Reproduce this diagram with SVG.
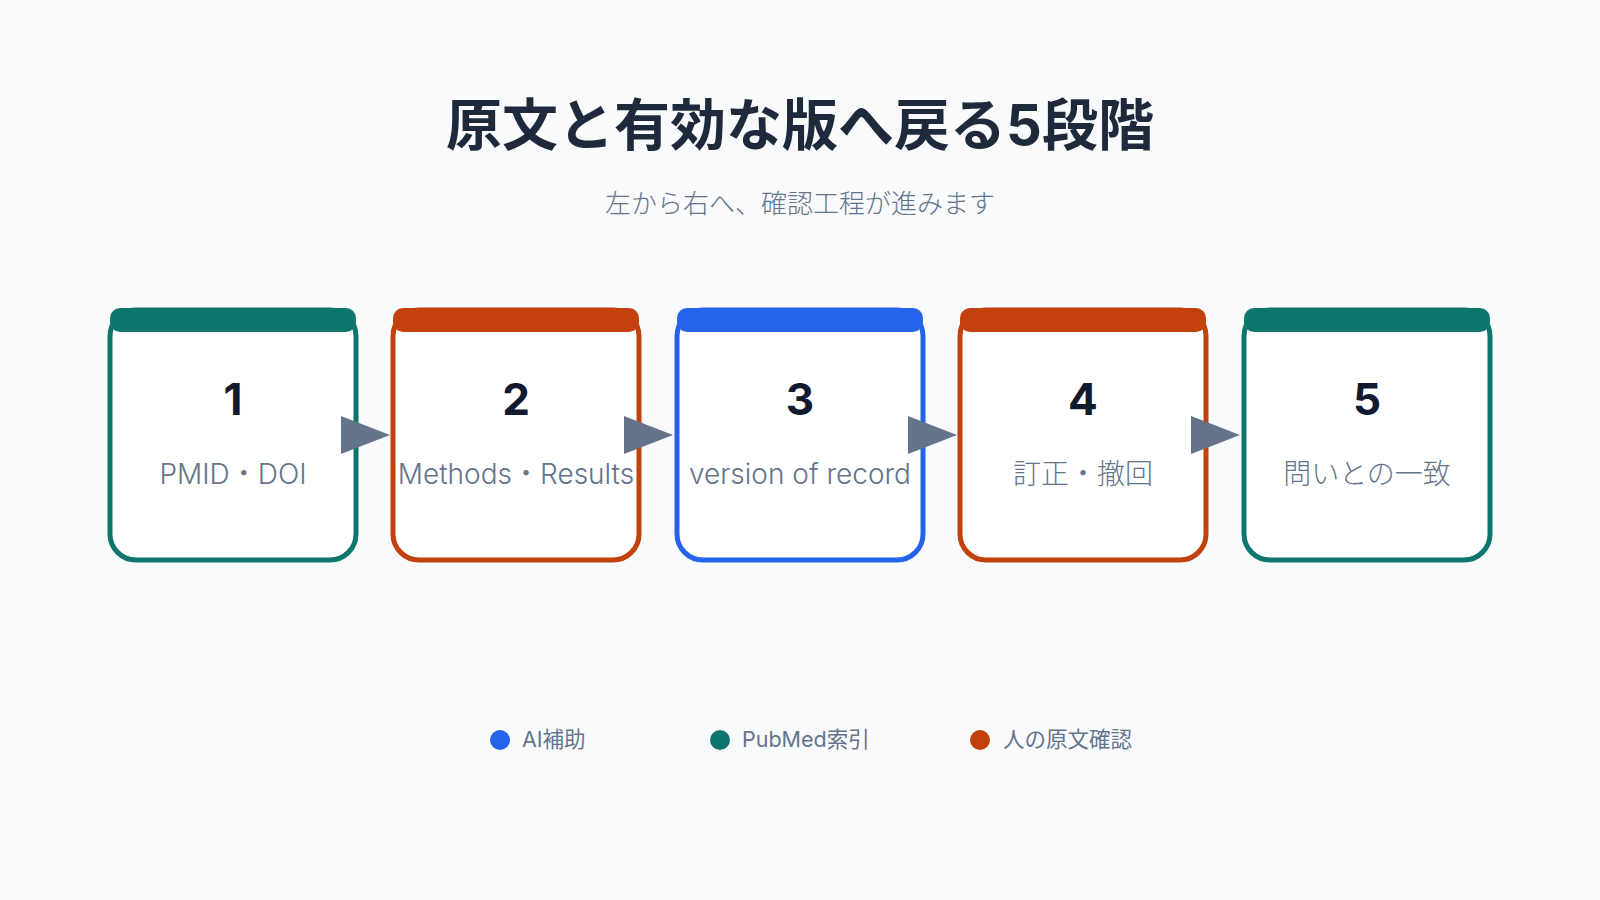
<svg xmlns="http://www.w3.org/2000/svg" width="1600" height="900" viewBox="0 0 1600 900">
<style>
text{font-family:Inter,"Noto Sans","Noto Sans CJK JP",sans-serif}
.box{fill:#fff;stroke-width:5}
.num{font-size:44px;font-weight:700;fill:#111a2e;text-anchor:middle}
.lbl{font-size:28px;fill:#64748b;text-anchor:middle;font-weight:300}
.arr{fill:#64748b}
.leg{font-size:21.5px;fill:#64748b}
</style>
<rect width="1600" height="900" fill="#f8fafc"/>
<text x="800" y="145" font-size="56" font-weight="700" fill="#1e293b" text-anchor="middle" font-family="Noto Sans CJK JP,sans-serif">原文と有効な版へ戻る5段階</text>
<text x="800" y="213" font-size="26" fill="#64748b" text-anchor="middle" font-weight="300">左から右へ、確認工程が進みます</text>
<g id="n1"><rect class="box" x="110" y="310" width="246" height="250" rx="26" stroke="#0f766e"/><rect x="110" y="308" width="246" height="24" rx="10" fill="#0f766e"/><text class="num" x="233" y="415">1</text><text class="lbl" x="233" y="484">PMID・DOI</text></g>
<g id="n2"><rect class="box" x="393" y="310" width="246" height="250" rx="26" stroke="#c2410c"/><rect x="393" y="308" width="246" height="24" rx="10" fill="#c2410c"/><text class="num" x="516" y="415">2</text><text class="lbl" x="516" y="484">Methods・Results</text></g>
<g id="n3"><rect class="box" x="677" y="310" width="246" height="250" rx="26" stroke="#2563eb"/><rect x="677" y="308" width="246" height="24" rx="10" fill="#2563eb"/><text class="num" x="800" y="415">3</text><text class="lbl" x="800" y="484">version of record</text></g>
<g id="n4"><rect class="box" x="960" y="310" width="246" height="250" rx="26" stroke="#c2410c"/><rect x="960" y="308" width="246" height="24" rx="10" fill="#c2410c"/><text class="num" x="1083" y="415">4</text><text class="lbl" x="1083" y="484">訂正・撤回</text></g>
<g id="n5"><rect class="box" x="1244" y="310" width="246" height="250" rx="26" stroke="#0f766e"/><rect x="1244" y="308" width="246" height="24" rx="10" fill="#0f766e"/><text class="num" x="1367" y="415">5</text><text class="lbl" x="1367" y="484">問いとの一致</text></g>
<g id="connectors">
<polygon class="arr" points="341,416 390,435 341,454"/>
<polygon class="arr" points="624,416 673,435 624,454"/>
<polygon class="arr" points="908,416 957,435 908,454"/>
<polygon class="arr" points="1191,416 1240,435 1191,454"/>
</g>
<g id="legend">
<circle cx="500" cy="740" r="10" fill="#2563eb"/><text class="leg" x="522" y="747">AI補助</text>
<circle cx="720" cy="740" r="10" fill="#0f766e"/><text class="leg" x="742" y="747">PubMed索引</text>
<circle cx="980" cy="740" r="10" fill="#c2410c"/><text class="leg" x="1003" y="747">人の原文確認</text>
</g>
</svg>
